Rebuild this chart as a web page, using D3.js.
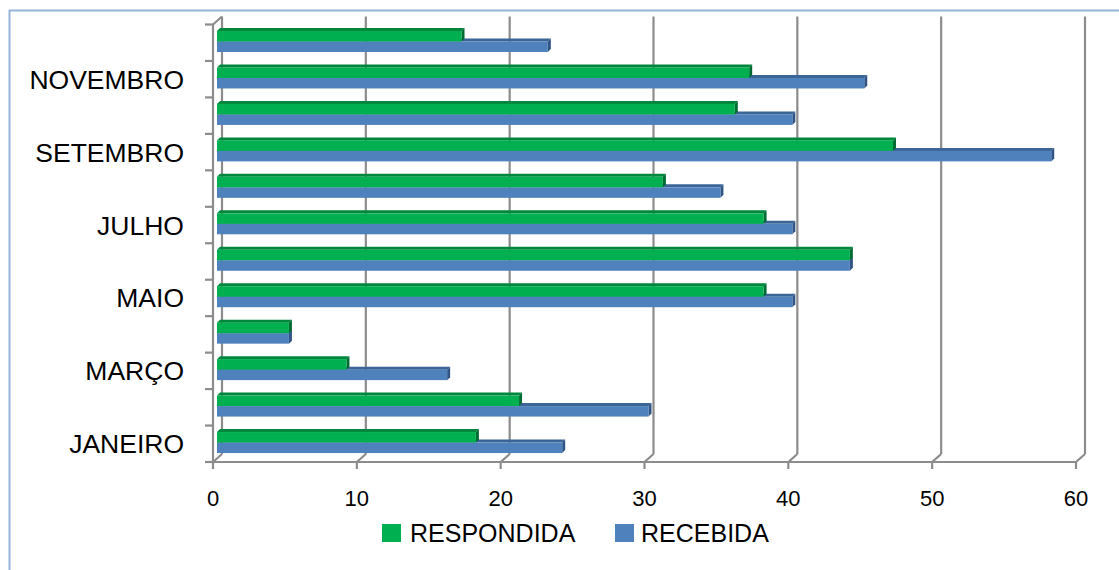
<!DOCTYPE html>
<html>
<head>
<meta charset="utf-8">
<script src="https://cdn.jsdelivr.net/npm/d3@7/dist/d3.min.js"></script>
<style>
  html, body { margin: 0; padding: 0; background: #fff; }
  svg { display: block; }
  text { font-family: "Liberation Sans", Arial, sans-serif; fill: #000; }
</style>
</head>
<body>
<svg id="chart" width="1119" height="570"></svg>
<script>
// ---- data ----
const months = ["JANEIRO","FEVEREIRO","MARÇO","ABRIL","MAIO","JUNHO","JULHO","AGOSTO","SETEMBRO","OUTUBRO","NOVEMBRO","DEZEMBRO"];
const shownLabels = ["JANEIRO","MARÇO","MAIO","JULHO","SETEMBRO","NOVEMBRO"];
const respondida = [18, 21, 9, 5, 38, 44, 38, 31, 47, 36, 37, 17];
const recebida   = [24, 30, 16, 5, 40, 44, 40, 35, 58, 40, 45, 23];
const seriesNames = ["RESPONDIDA", "RECEBIDA"];
const xTicks = [0, 10, 20, 30, 40, 50, 60];

// ---- styles ----
const colors = { RESPONDIDA: "#00B050", RECEBIDA: "#4F81BD" };
const topColors = { RESPONDIDA: "#00873D", RECEBIDA: "#3B6596" };
const sideColors = { RESPONDIDA: "#006B30", RECEBIDA: "#2F5485" };
const gridColor = "#8C8C8C";

const svg = d3.select("#chart");

// outer border
svg.append("rect").attr("x", 9.5).attr("y", 10.5).attr("width", 1130).attr("height", 580)
  .attr("fill", "#fff").attr("stroke", "#95B3D7").attr("stroke-width", 2);

// scales (front plane)
const x = d3.scaleLinear().domain([0, 60]).range([213, 1076]);
const y = d3.scaleBand().domain(months.slice().reverse()).range([24.5, 462]);
const depth = { dx: 9, dy: -8 };  // back wall offset
const barOff = { dx: 4, dy: 0 };   // bar plane offset

// back wall gridlines
svg.append("g").selectAll("line").data(xTicks).join("line")
  .attr("x1", d => x(d) + depth.dx).attr("x2", d => x(d) + depth.dx)
  .attr("y1", 462 + depth.dy).attr("y2", 24.5 + depth.dy)
  .attr("stroke", gridColor).attr("stroke-width", 2.2);

// floor diagonals
svg.append("g").selectAll("line").data(xTicks).join("line")
  .attr("x1", d => x(d)).attr("y1", 462)
  .attr("x2", d => x(d) + depth.dx).attr("y2", 462 + depth.dy)
  .attr("stroke", gridColor).attr("stroke-width", 2.2);

// bars
const barH = 10.5;
const topD = 3;
const groups = svg.append("g");
months.forEach((m, i) => {
  const yb = y(m) + 6.5;
  const entries = [
    { s: "RECEBIDA", v: recebida[i], y0: yb + barH },
    { s: "RESPONDIDA", v: respondida[i], y0: yb }
  ];
  entries.forEach(e => {
    const x0 = x(0) + barOff.dx, x1 = x(e.v) + barOff.dx;
    const g = groups.append("g");
    g.append("polygon")
      .attr("points", [[x0, e.y0], [x1, e.y0], [x1 + topD, e.y0 - topD], [x0 + topD, e.y0 - topD]].map(p => p.join(",")).join(" "))
      .attr("fill", topColors[e.s]);
    g.append("polygon")
      .attr("points", [[x1, e.y0], [x1 + topD, e.y0 - topD], [x1 + topD, e.y0 + barH - topD], [x1, e.y0 + barH]].map(p => p.join(",")).join(" "))
      .attr("fill", sideColors[e.s]);
    g.append("rect").attr("x", x0).attr("y", e.y0).attr("width", x1 - x0).attr("height", barH)
      .attr("fill", colors[e.s]);
  });
});

// front axes
const axisG = svg.append("g");
axisG.append("line").attr("x1", 213).attr("x2", 213).attr("y1", 24.5).attr("y2", 462)
  .attr("stroke", gridColor).attr("stroke-width", 2.2);
axisG.append("line").attr("x1", 213).attr("y1", 24.5).attr("x2", 213 + depth.dx).attr("y2", 24.5 + depth.dy)
  .attr("stroke", gridColor).attr("stroke-width", 2.2);
const yBounds = months.map(m => y(m)).concat([462]);
axisG.selectAll("line.yt").data(yBounds).join("line").attr("class", "yt")
  .attr("x1", 205).attr("x2", 213).attr("y1", d => d).attr("y2", d => d)
  .attr("stroke", gridColor).attr("stroke-width", 2.2);
axisG.append("line").attr("x1", 212).attr("x2", x(60)).attr("y1", 462).attr("y2", 462)
  .attr("stroke", gridColor).attr("stroke-width", 2.2);
axisG.selectAll("line.xt").data(xTicks).join("line").attr("class", "xt")
  .attr("x1", d => x(d)).attr("x2", d => x(d)).attr("y1", 462).attr("y2", 469)
  .attr("stroke", gridColor).attr("stroke-width", 2.2);

// x tick labels
svg.append("g").selectAll("text").data(xTicks).join("text")
  .attr("x", d => x(d)).attr("y", 506)
  .attr("text-anchor", "middle").attr("font-size", 22)
  .text(d => d);

// y labels
svg.append("g").selectAll("text").data(shownLabels).join("text")
  .attr("x", 184).attr("y", d => y(d) + y.bandwidth() / 2 + 9.5)
  .attr("text-anchor", "end").attr("font-size", 26.5)
  .text(d => d);

// legend
const legend = svg.append("g");
const legendItems = [
  { name: seriesNames[0], x: 382, tx: 410 },
  { name: seriesNames[1], x: 615, tx: 641 }
];
legendItems.forEach(it => {
  legend.append("rect").attr("x", it.x).attr("y", 524).attr("width", 19).attr("height", 18)
    .attr("fill", colors[it.name]);
  legend.append("text").attr("x", it.tx).attr("y", 542).attr("font-size", 25).text(it.name);
});
</script>
</body>
</html>
